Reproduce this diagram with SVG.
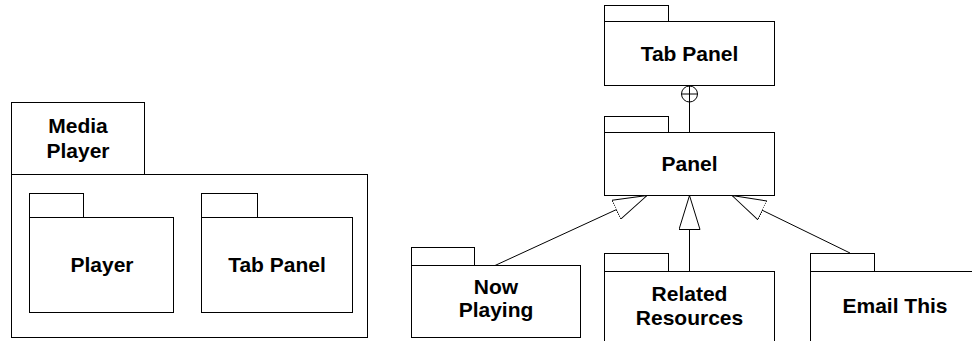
<svg xmlns="http://www.w3.org/2000/svg" width="972" height="341" viewBox="0 0 972 341">
<style>
.box{fill:#fff;stroke:#000;stroke-width:1}
.ln{fill:none;stroke:#000;stroke-width:1}
.t{font-family:"Liberation Sans",Arial,sans-serif;font-weight:bold;font-size:21px;text-anchor:middle;fill:#000}
</style>
<defs>
<marker id="gen" viewBox="0 0 34 22" refX="34" refY="11" markerWidth="34" markerHeight="22" markerUnits="userSpaceOnUse" orient="auto">
<path d="M34,11 L0,0.5 L0,21.5 Z" fill="#fff" stroke="#000" stroke-width="1"/>
</marker>
</defs>
<rect width="972" height="341" fill="#fff"/>
<g id="media-player">
<rect class="box" x="11.5" y="102.5" width="133" height="72"/>
<rect class="box" x="11.5" y="174.5" width="356" height="163"/>
<text class="t" x="78" y="133">Media</text>
<text class="t" x="78" y="158">Player</text>
</g>
<g id="player">
<rect class="box" x="29.5" y="193.5" width="54" height="24"/>
<rect class="box" x="29.5" y="217.5" width="144" height="95"/>
<text class="t" x="102" y="272">Player</text>
</g>
<g id="tab-panel-inner">
<rect class="box" x="201.5" y="193.5" width="56" height="24"/>
<rect class="box" x="201.5" y="217.5" width="151" height="95"/>
<text class="t" x="277" y="272">Tab Panel</text>
</g>
<g id="tab-panel">
<rect class="box" x="604.5" y="5.5" width="64" height="16"/>
<rect class="box" x="604.5" y="21.5" width="170" height="64"/>
<text class="t" x="689.5" y="61">Tab Panel</text>
</g>
<g id="panel">
<rect class="box" x="604.5" y="116.5" width="64" height="16"/>
<rect class="box" x="604.5" y="132.5" width="170" height="63"/>
<text class="t" x="689.5" y="171">Panel</text>
</g>
<g id="now-playing">
<rect class="box" x="411.5" y="247.5" width="63" height="18"/>
<rect class="box" x="411.5" y="265.5" width="169" height="72"/>
<text class="t" x="496" y="294">Now</text>
<text class="t" x="496" y="317">Playing</text>
</g>
<g id="related-resources">
<rect class="box" x="604.5" y="253.5" width="64" height="18"/>
<rect class="box" x="604.5" y="271.5" width="170" height="80"/>
<text class="t" x="689.5" y="301">Related</text>
<text class="t" x="689.5" y="325">Resources</text>
</g>
<g id="email-this">
<rect class="box" x="810.5" y="253.5" width="64" height="18"/>
<rect class="box" x="810.5" y="271.5" width="170" height="80"/>
<text class="t" x="895" y="313">Email This</text>
</g>
<g id="connectors">
<line class="ln" x1="689.5" y1="102" x2="689.5" y2="132"/>
<circle class="ln" cx="689.5" cy="94" r="8" fill="#fff"/>
<line class="ln" x1="681.5" y1="94" x2="697.5" y2="94"/>
<line class="ln" x1="689.5" y1="86" x2="689.5" y2="102"/>
<line class="ln" x1="495" y1="265.5" x2="647" y2="195.5" marker-end="url(#gen)"/>
<line class="ln" x1="689.5" y1="271" x2="689.5" y2="195.5" marker-end="url(#gen)"/>
<line class="ln" x1="850" y1="253" x2="732" y2="195.5" marker-end="url(#gen)"/>
</g>
</svg>
